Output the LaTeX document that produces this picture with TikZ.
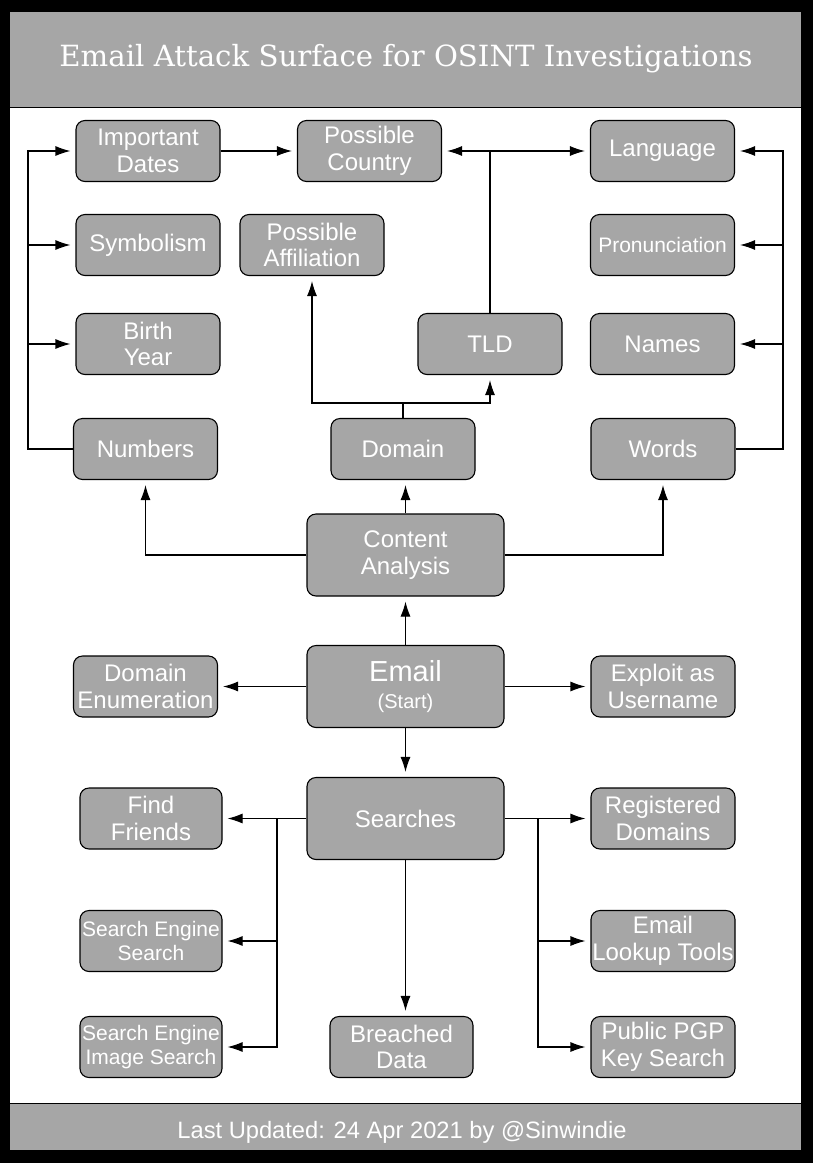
\documentclass[tikz,border=0pt]{standalone}
\usepackage{fontspec}
\setmainfont{Liberation Sans}
\newfontfamily\titlefont{DejaVu Serif}
\usepackage{tikz}
\usetikzlibrary{positioning}
\usetikzlibrary{arrows.meta}
\definecolor{boxgray}{RGB}{166,166,166}
\tikzset{
  box/.style={draw, fill=boxgray, rounded corners=9pt, line width=1.1pt,
    minimum width=144pt, minimum height=61pt, inner sep=0pt, align=center,
    text=white, font=\fontsize{24}{26.5}\selectfont},
  bigbox/.style={box, minimum width=197pt, minimum height=82pt},
  smalltext/.style={font=\fontsize{21}{24}\selectfont},
  link/.style={line width=1.1pt, ->, shorten >=5pt},
  >={Latex[length=15pt,width=10pt]}
}
\begin{document}
\begin{tikzpicture}[x=1pt,y=-1pt]
\useasboundingbox (0,0) rectangle (813,1163);
\fill (0,0) rectangle (813,1163);
\draw[fill=white, line width=1pt] (9,11) rectangle (801,1150);
\draw[fill=boxgray, line width=1pt] (9,11) rectangle (801,107);
\draw[fill=boxgray, line width=1pt] (9,1103) rectangle (801,1150);
\node[text=white, font=\titlefont\fontsize{29.2}{32}\selectfont] (title) at (406,59) {Email Attack Surface for OSINT Investigations};
\node[text=white, font=\fontsize{23.7}{26}\selectfont] (footer) at (402,1132) {Last Updated: 24 Apr 2021 by @Sinwindie};

% upper part
\node[box] (dates) at (148,151) {Important\\Dates};
\node[box] (country) at (369.5,151) {Possible\\Country};
\node[box] (language) at (662.5,151) {Language};
\node[box] (symbolism) at (148,245) {Symbolism};
\node[box] (affiliation) at (312,245) {Possible\\Affiliation};
\node[box, smalltext] (pronunciation) at (662.5,245) {Pronunciation};
\node[box] (birthyear) at (148,344) {Birth\\Year};
\node[box] (tld) at (490,344) {TLD};
\node[box] (names) at (662.5,344) {Names};
\node[box] (numbers) at (145.5,449) {Numbers};
\node[box] (domain) at (403,449) {Domain};
\node[box] (words) at (663,449) {Words};
\node[bigbox] (content) at (405.5,555) {Content\\Analysis};

% middle
\node[bigbox] (email) at (405.5,686.5) {{\fontsize{29}{30}\selectfont Email}\\{\fontsize{20}{22}\selectfont (Start)}};
\node[box] (domenum) at (145.5,686.5) {Domain\\Enumeration};
\node[box] (exploit) at (663,686.5) {Exploit as\\Username};

% lower part
\node[bigbox] (searches) at (405.5,818.5) {Searches};
\node[box, minimum width=142pt] (friends) at (151,818.5) {Find\\Friends};
\node[box] (registered) at (663,818.5) {Registered\\Domains};
\node[box, smalltext, minimum width=142pt] (sesearch) at (151,941) {Search Engine\\Search};
\node[box] (lookup) at (663,941) {Email\\Lookup Tools};
\node[box, smalltext, minimum width=142pt] (imagesearch) at (151,1047) {Search Engine\\Image Search};
\node[box, minimum width=143pt] (breached) at (401.5,1047) {Breached\\Data};
\node[box] (pgp) at (663,1047) {Public PGP\\Key Search};

\coordinate (numbus) at (28,449);
\coordinate (wordbus) at (783,449);
\coordinate (dombus) at (403,403);
\coordinate (leftbus) at (277,818.5);
\coordinate (rightbus) at (538,818.5);

\draw[link] (numbers.west) -- (numbus) |- (dates.west);
\draw[link] (numbus) |- (symbolism.west);
\draw[link] (numbus) |- (birthyear.west);
\draw[link] (dates) -- (country);
\draw[link] (tld.north) |- (country.east);
\draw[link] (tld.north) |- (language.west);
\draw[link] (words.east) -- (wordbus) |- (language.east);
\draw[link] (wordbus) |- (pronunciation.east);
\draw[link] (wordbus) |- (names.east);
\draw[line width=1.1pt] (domain.north) -- (dombus);
\draw[link] (dombus) -| (affiliation.south);
\draw[link] (dombus) -| (tld.south);
\draw[link] (content.west) -| (numbers.south);
\draw[link] (content.north) -- (content.north |- domain.south);
\draw[link] (content.east) -| (words.south);
\draw[link] (email) -- (content);
\draw[link] (email) -- (domenum);
\draw[link] (email) -- (exploit);
\draw[link] (email) -- (searches);
\draw[link] (searches) -- (friends);
\draw[link] (leftbus) |- (sesearch.east);
\draw[link] (leftbus) |- (imagesearch.east);
\draw[link] (searches) -- (registered);
\draw[link] (rightbus) |- (lookup.west);
\draw[link] (rightbus) |- (pgp.west);
\draw[link] (searches.south) -- (searches.south |- breached.north);
\end{tikzpicture}
\end{document}
